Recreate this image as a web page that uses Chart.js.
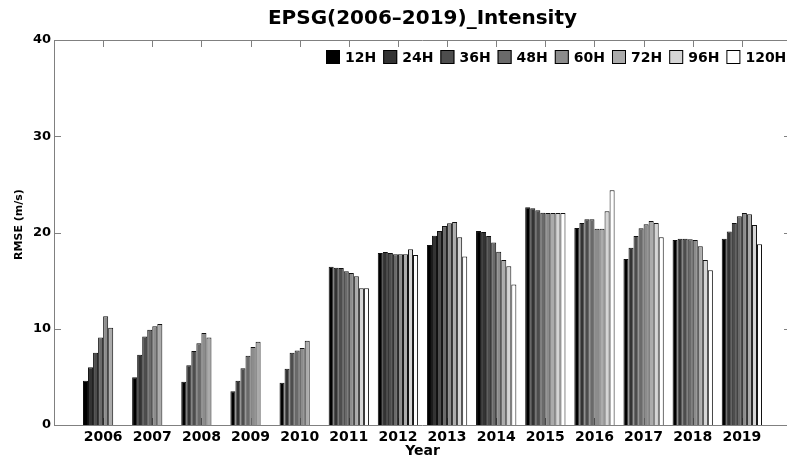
<!DOCTYPE html>
<html>
<head>
<meta charset="utf-8">
<title>EPSG(2006-2019)_Intensity</title>
<script src="https://cdn.jsdelivr.net/npm/chart.js@4.4.1/dist/chart.umd.min.js"></script>
<style>
  html, body { margin: 0; padding: 0; background: #fff; overflow: hidden; }
  canvas { display: block; }
</style>
</head>
<body>
<!-- a bit wider than the window: the right edge of the axes box is cut off in the original -->
<canvas id="rmseChart" width="791" height="458"></canvas>
<script>
// data
const years = ["2006", "2007", "2008", "2009", "2010", "2011", "2012",
               "2013", "2014", "2015", "2016", "2017", "2018", "2019"];
const leadTimes = ["12H", "24H", "36H", "48H", "60H", "72H", "96H", "120H"];
const barColors = ["#000000", "#333333", "#4d4d4d", "#6a6a6a",
                   "#8c8c8c", "#ababab", "#d5d5d5", "#ffffff"];
const yTicks = [0, 10, 20, 30, 40];

const rmse12 = [4.6, 4.95, 4.5, 3.5, 4.4, 16.45, 17.87, 18.7, 20.15, 22.62, 20.47, 17.25, 19.22, 19.36];
const rmse24 = [6.0, 7.3, 6.2, 4.6, 5.85, 16.35, 17.97, 19.67, 20.05, 22.51, 20.99, 18.42, 19.36, 20.1];
const rmse36 = [7.5, 9.2, 7.7, 5.9, 7.5, 16.3, 17.87, 20.15, 19.64, 22.3, 21.37, 19.64, 19.36, 21.0];
const rmse48 = [9.1, 9.9, 8.5, 7.2, 7.75, 15.97, 17.73, 20.67, 18.95, 22.06, 21.37, 20.43, 19.29, 21.68];
const rmse60 = [11.3, 10.25, 9.55, 8.1, 8.0, 15.8, 17.73, 20.95, 18.0, 22.03, 20.4, 20.85, 19.22, 22.03];
const rmse72 = [10.1, 10.5, 9.1, 8.65, 8.75, 15.45, 17.73, 21.1, 17.14, 22.03, 20.4, 21.2, 18.56, 21.9];
const rmse96 = [null, null, null, null, null, 14.2, 18.25, 19.5, 16.5, 22.03, 22.2, 21.0, 17.14, 20.78];
const rmse120 = [null, null, null, null, null, 14.2, 17.66, 17.5, 14.6, 22.03, 24.38, 19.5, 16.07, 18.77];

const series = [rmse12, rmse24, rmse36, rmse48, rmse60, rmse72, rmse96, rmse120];

const FONT = "'DejaVu Sans', sans-serif";
const AXIS_GREY = "#808080";

// matlab xlim is [0 15]: pad one empty slot on each side of the years
const xLabels = [""].concat(years, [""]);
function padSeries(arr) { return [null].concat(arr, [null]); }

// box + inward ticks like the matlab axes, drawn under the bars
const axesBox = {
    id: "axesBox",
    beforeDatasetsDraw(chart) {
        const { ctx, chartArea: a, scales } = chart;
        ctx.save();
        ctx.strokeStyle = AXIS_GREY;
        ctx.lineWidth = 1;
        ctx.beginPath();
        ctx.rect(a.left + 0.5, a.top + 0.5, a.right - a.left - 1, a.bottom - a.top);
        ctx.stroke();

        ctx.beginPath();
        yTicks.forEach(v => {
            const y = Math.round(scales.y.getPixelForValue(v)) + 0.5;
            ctx.moveTo(a.left, y);
            ctx.lineTo(a.left + 7, y);
            ctx.moveTo(a.right, y);
            ctx.lineTo(a.right - 7, y);
        });
        years.forEach((yr, i) => {
            const x = Math.round(scales.x.getPixelForValue(i + 1)) + 0.5;
            ctx.moveTo(x, a.top);
            ctx.lineTo(x, a.top + 7);
            ctx.moveTo(x, a.bottom);
            ctx.lineTo(x, a.bottom - 7);
        });
        ctx.stroke();
        ctx.restore();
    },
    afterDraw(chart) {
        // y label sits a bit above the axis middle in the original
        const { ctx, chartArea: a } = chart;
        ctx.save();
        ctx.font = "bold 11px " + FONT;
        ctx.fillStyle = "#000";
        ctx.textAlign = "center";
        ctx.textBaseline = "middle";
        ctx.translate(19, (a.top + a.bottom) / 2 - 8);
        ctx.rotate(-Math.PI / 2);
        ctx.fillText("RMSE (m/s)", 0, 0);
        ctx.restore();
    }
};

// legend sits inside the plot, top right of the visible part
const innerLegend = {
    id: "innerLegend",
    afterDatasetsDraw(chart) {
        const { ctx, chartArea: a } = chart;
        const box = 14, gap = 5, space = 7;
        ctx.save();
        ctx.font = "bold 14px " + FONT;
        ctx.textBaseline = "middle";

        const widths = chart.data.datasets.map(ds => box + gap + ctx.measureText(ds.label).width);
        const total = widths.reduce((s, w) => s + w, 0) + space * (widths.length - 1);
        let x = Math.round(786 - total);
        const y = a.top + 10;

        chart.data.datasets.forEach((ds, i) => {
            ctx.fillStyle = ds.backgroundColor;
            ctx.fillRect(x, y, box, box);
            ctx.strokeStyle = "#000";
            ctx.lineWidth = 1;
            ctx.strokeRect(x + 0.5, y + 0.5, box - 1, box - 1);
            ctx.fillStyle = "#000";
            ctx.fillText(ds.label, x + box + gap, y + box / 2 + 1);
            x += widths[i] + space;
        });
        ctx.restore();
    }
};

function buildDatasets() {
    return leadTimes.map((lt, i) => ({
        label: lt,
        data: padSeries(series[i]),
        backgroundColor: barColors[i],
        borderColor: "#111111",
        borderWidth: 1,
        categoryPercentage: 0.82,
        barPercentage: 1.0
    }));
}

window.onload = function () {
    const ctx = document.getElementById("rmseChart").getContext("2d");

    new Chart(ctx, {
        type: "bar",
        data: {
            labels: xLabels,
            datasets: buildDatasets()
        },
        options: {
            responsive: false,
            animation: false,
            devicePixelRatio: 1,
            layout: { padding: 0 },
            plugins: {
                legend: { display: false },
                tooltip: { enabled: false },
                title: {
                    display: true,
                    text: "EPSG(2006–2019)_Intensity",
                    fullSize: false,
                    color: "#000",
                    font: { family: FONT, size: 20, weight: "bold", lineHeight: 1.2 },
                    padding: { top: 7, bottom: 9 }
                }
            },
            scales: {
                x: {
                    offset: false,
                    grid: { display: false, drawTicks: false },
                    border: { display: false },
                    ticks: {
                        autoSkip: false,
                        maxRotation: 0,
                        color: "#000",
                        padding: 4,
                        font: { family: FONT, size: 14, weight: "bold" }
                    },
                    title: {
                        display: true,
                        text: "Year",
                        color: "#000",
                        padding: { top: 0, bottom: -2 },
                        font: { family: FONT, size: 14, weight: "bold" }
                    },
                    afterFit(scale) {
                        scale.height = 33;
                        scale.paddingLeft = 0;
                        scale.paddingRight = 0;
                    }
                },
                y: {
                    min: 0,
                    max: 40,
                    grid: { display: false, drawTicks: false },
                    border: { display: false },
                    ticks: {
                        stepSize: 10,
                        color: "#000",
                        padding: 3,
                        font: { family: FONT, size: 13, weight: "bold" }
                    },
                    title: { display: false },
                    afterFit(scale) { scale.width = 54; }
                }
            }
        },
        plugins: [axesBox, innerLegend]
    });
};
</script>
</body>
</html>
